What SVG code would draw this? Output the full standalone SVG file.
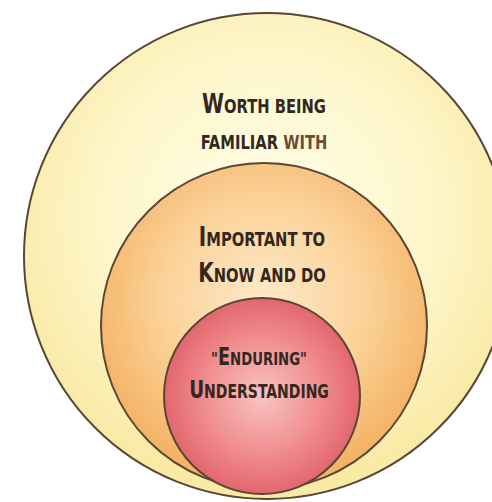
<svg xmlns="http://www.w3.org/2000/svg" width="492" height="502" viewBox="0 0 492 502">
  <defs>
    <radialGradient id="gOuter" cx="0.5" cy="0.42" r="0.55">
      <stop offset="0" stop-color="#fffde8"/>
      <stop offset="0.6" stop-color="#fef7cc"/>
      <stop offset="1" stop-color="#f9eaa6"/>
    </radialGradient>
    <radialGradient id="gMid" cx="0.5" cy="0.42" r="0.55">
      <stop offset="0" stop-color="#fde9c8"/>
      <stop offset="0.55" stop-color="#fbd39a"/>
      <stop offset="1" stop-color="#f4b366"/>
    </radialGradient>
    <radialGradient id="gIn" cx="0.5" cy="0.5" r="0.55">
      <stop offset="0" stop-color="#f9c4c2"/>
      <stop offset="0.55" stop-color="#f08c8e"/>
      <stop offset="1" stop-color="#df5d66"/>
    </radialGradient>
    <style>
      .ring { stroke: #5b4636; stroke-width: 2; }
      .lbl { font-family: "DejaVu Sans Condensed", "Liberation Sans Narrow", "Liberation Sans", sans-serif; font-weight: bold; fill: #33271f; text-anchor: middle; font-size: 20px; }
      .ini { font-size: 27px; }
      .lbl.sm { font-size: 18px; }
      .sm .ini { font-size: 24px; }
      .brown { fill: #6e4c36; }
    </style>
  </defs>
  <rect width="492" height="502" fill="#ffffff"/>
  <g id="worth-being-familiar">
    <circle class="ring" cx="267" cy="256" r="243" fill="url(#gOuter)"/>
    <g transform="translate(264,0) scale(0.82,1)">
      <text class="lbl" x="0" y="113"><tspan class="ini">W</tspan>ORTH BEING</text>
      <text class="lbl" x="0" y="149">FAMILIAR <tspan class="brown">WITH</tspan></text>
    </g>
  </g>
  <g id="important-to-know">
    <circle class="ring" cx="264" cy="326" r="163" fill="url(#gMid)"/>
    <g transform="translate(262,0) scale(0.82,1)">
      <text class="lbl" x="0" y="246"><tspan class="ini">I</tspan>MPORTANT TO</text>
      <text class="lbl" x="0" y="282"><tspan class="ini">K</tspan>NOW AND DO</text>
    </g>
  </g>
  <g id="enduring-understanding">
    <circle class="ring" cx="262" cy="396" r="98" fill="url(#gIn)"/>
    <g transform="translate(259,0) scale(0.82,1)">
      <text class="lbl sm" x="0" y="365">"<tspan class="ini">E</tspan>NDURING"</text>
      <text class="lbl sm" x="0" y="398" style="font-size:19px"><tspan class="ini" style="font-size:25px">U</tspan>NDERSTANDING</text>
    </g>
  </g>
</svg>
